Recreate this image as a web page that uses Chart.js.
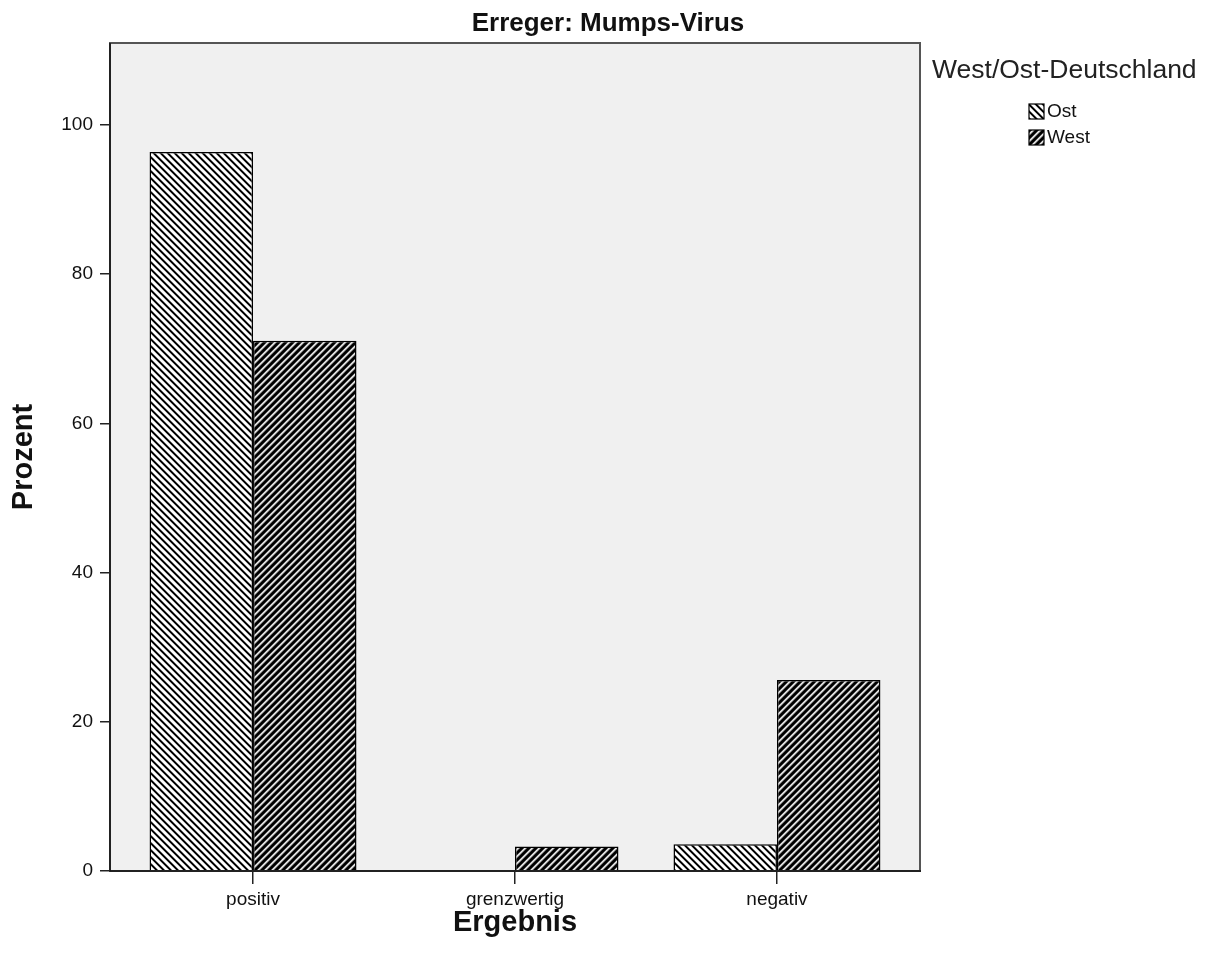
<!DOCTYPE html>
<html><head><meta charset="utf-8">
<script src="https://cdn.jsdelivr.net/npm/chart.js@4.4.1/dist/chart.umd.min.js"></script>
<style>html,body{margin:0;padding:0;background:#fff}#wrap{width:1210px;height:960px;position:relative}</style>
</head><body><div id="wrap"><canvas id="c"></canvas></div>
<script>
const categories = ['positiv', 'grenzwertig', 'negativ'];
const seriesNames = ['Ost', 'West'];
const ostValues = [96.4, 0, 3.6];
const westValues = [71.1, 3.3, 25.6];
const yTicks = [0, 20, 40, 60, 80, 100];
const chartTitle = 'Erreger: Mumps-Virus';
const legendTitle = 'West/Ost-Deutschland';
const xTitle = 'Ergebnis';
const yTitle = 'Prozent';

const FONT = "'Liberation Sans', Arial, sans-serif";
const ctx = document.getElementById('c').getContext('2d');

function makePattern(kind) {
  const n = 7;
  const c = document.createElement('canvas'); c.width = n; c.height = n;
  const g = c.getContext('2d');
  const img = g.createImageData(n, n);
  for (let y = 0; y < n; y++) for (let x = 0; x < n; x++) {
    let v;
    if (kind === 'ost') { const d = ((x - y) % n + n) % n; v = (d === 0 || d === 1) ? 0 : d === 2 ? 130 : d === 6 ? 170 : 255; }
    else { const s = (x + y) % n; v = s === 0 ? 235 : s === 1 ? 200 : (s === 2 || s === 6) ? 90 : 0; }
    const i = (y * n + x) * 4;
    img.data[i] = img.data[i + 1] = img.data[i + 2] = v; img.data[i + 3] = 255;
  }
  g.putImageData(img, 0, 0);
  return ctx.createPattern(c, 'repeat');
}
const patterns = [makePattern('ost'), makePattern('west')];

const framePlugin = {
  id: 'frame',
  beforeDraw(chart) {
    const a = chart.chartArea, g = chart.ctx;
    g.save(); g.fillStyle = '#f0f0f0';
    g.fillRect(a.left, a.top, a.right - a.left, a.bottom - a.top);
    g.restore();
  },
  afterDatasetsDraw(chart) {
    const a = chart.chartArea, g = chart.ctx;
    g.save();
    g.strokeStyle = '#555'; g.lineWidth = 2;
    g.strokeRect(a.left, a.top, a.right - a.left, a.bottom - a.top);
    g.strokeStyle = '#111'; g.lineWidth = 1.5;
    g.beginPath(); g.moveTo(a.left, a.top); g.lineTo(a.left, a.bottom); g.lineTo(a.right + 1, a.bottom); g.stroke();
    g.restore();
  }
};

const textPlugin = {
  id: 'texts',
  afterDraw(chart) {
    const g = chart.ctx;
    g.save();
    g.fillStyle = '#111';
    g.textBaseline = 'middle';
    g.textAlign = 'center';
    g.font = 'bold 26px ' + FONT;
    g.fillText(chartTitle, 608, 24);
    g.textAlign = 'left';
    g.fillStyle = '#222';
    g.font = '26.5px ' + FONT;
    g.fillText(legendTitle, 932, 71);
    chart.data.datasets.forEach((ds, i) => {
      const y = 112 + i * 26;
      g.fillStyle = ds.backgroundColor;
      g.fillRect(1029, y - 8, 15, 15);
      g.strokeStyle = '#000'; g.lineWidth = 1.2;
      g.strokeRect(1029, y - 8, 15, 15);
      g.fillStyle = '#111';
      g.font = '19px ' + FONT;
      g.fillText(ds.label, 1047, y);
    });
    g.restore();
  }
};

const seriesValues = [ostValues, westValues];
const chart = new Chart(ctx, {
  type: 'bar',
  data: {
    datasets: seriesNames.map((name, k) => ({
      label: name,
      data: seriesValues[k].map((v, i) => ({ x: i, y: v })),
      backgroundColor: patterns[k],
      borderColor: '#000',
      borderWidth: 1.5,
      categoryPercentage: 0.79,
      barPercentage: 1
    }))
  },
  options: {
    responsive: true, maintainAspectRatio: false, animation: false, devicePixelRatio: 1,
    layout: { padding: { top: 43, right: 290, left: 0, bottom: 0 } },
    plugins: {
      legend: { display: false },
      tooltip: { enabled: false },
      title: { display: false }
    },
    scales: {
      x: {
        type: 'linear', min: -0.546, max: 2.546, offset: false,
        afterBuildTicks: s => { s.ticks = categories.map((_, i) => ({ value: i })); },
        afterFit: s => { s.height = 89; },
        grid: { offset: false, drawOnChartArea: false, drawTicks: true, tickLength: 13, color: '#222', lineWidth: 1.5 },
        border: { display: false },
        ticks: { autoSkip: false, maxRotation: 0, padding: 4, color: '#111', font: { family: FONT, size: 19 }, callback: v => categories[v] },
        title: { display: true, text: xTitle, color: '#111', font: { family: FONT, size: 29, weight: 'bold' }, padding: { top: 0, bottom: 20 } }
      },
      y: {
        min: 0, max: 111,
        afterBuildTicks: s => { s.ticks = yTicks.map(v => ({ value: v })); },
        afterFit: s => { s.width = 110; },
        grid: { drawOnChartArea: false, drawTicks: true, tickLength: 10, color: '#222', lineWidth: 1.5 },
        border: { display: false },
        ticks: { padding: 7, color: '#111', font: { family: FONT, size: 19 } },
        title: { display: true, text: yTitle, color: '#111', font: { family: FONT, size: 29, weight: 'bold' }, padding: { top: 7, bottom: 0 } }
      }
    }
  },
  plugins: [framePlugin, textPlugin]
});
</script></body></html>
